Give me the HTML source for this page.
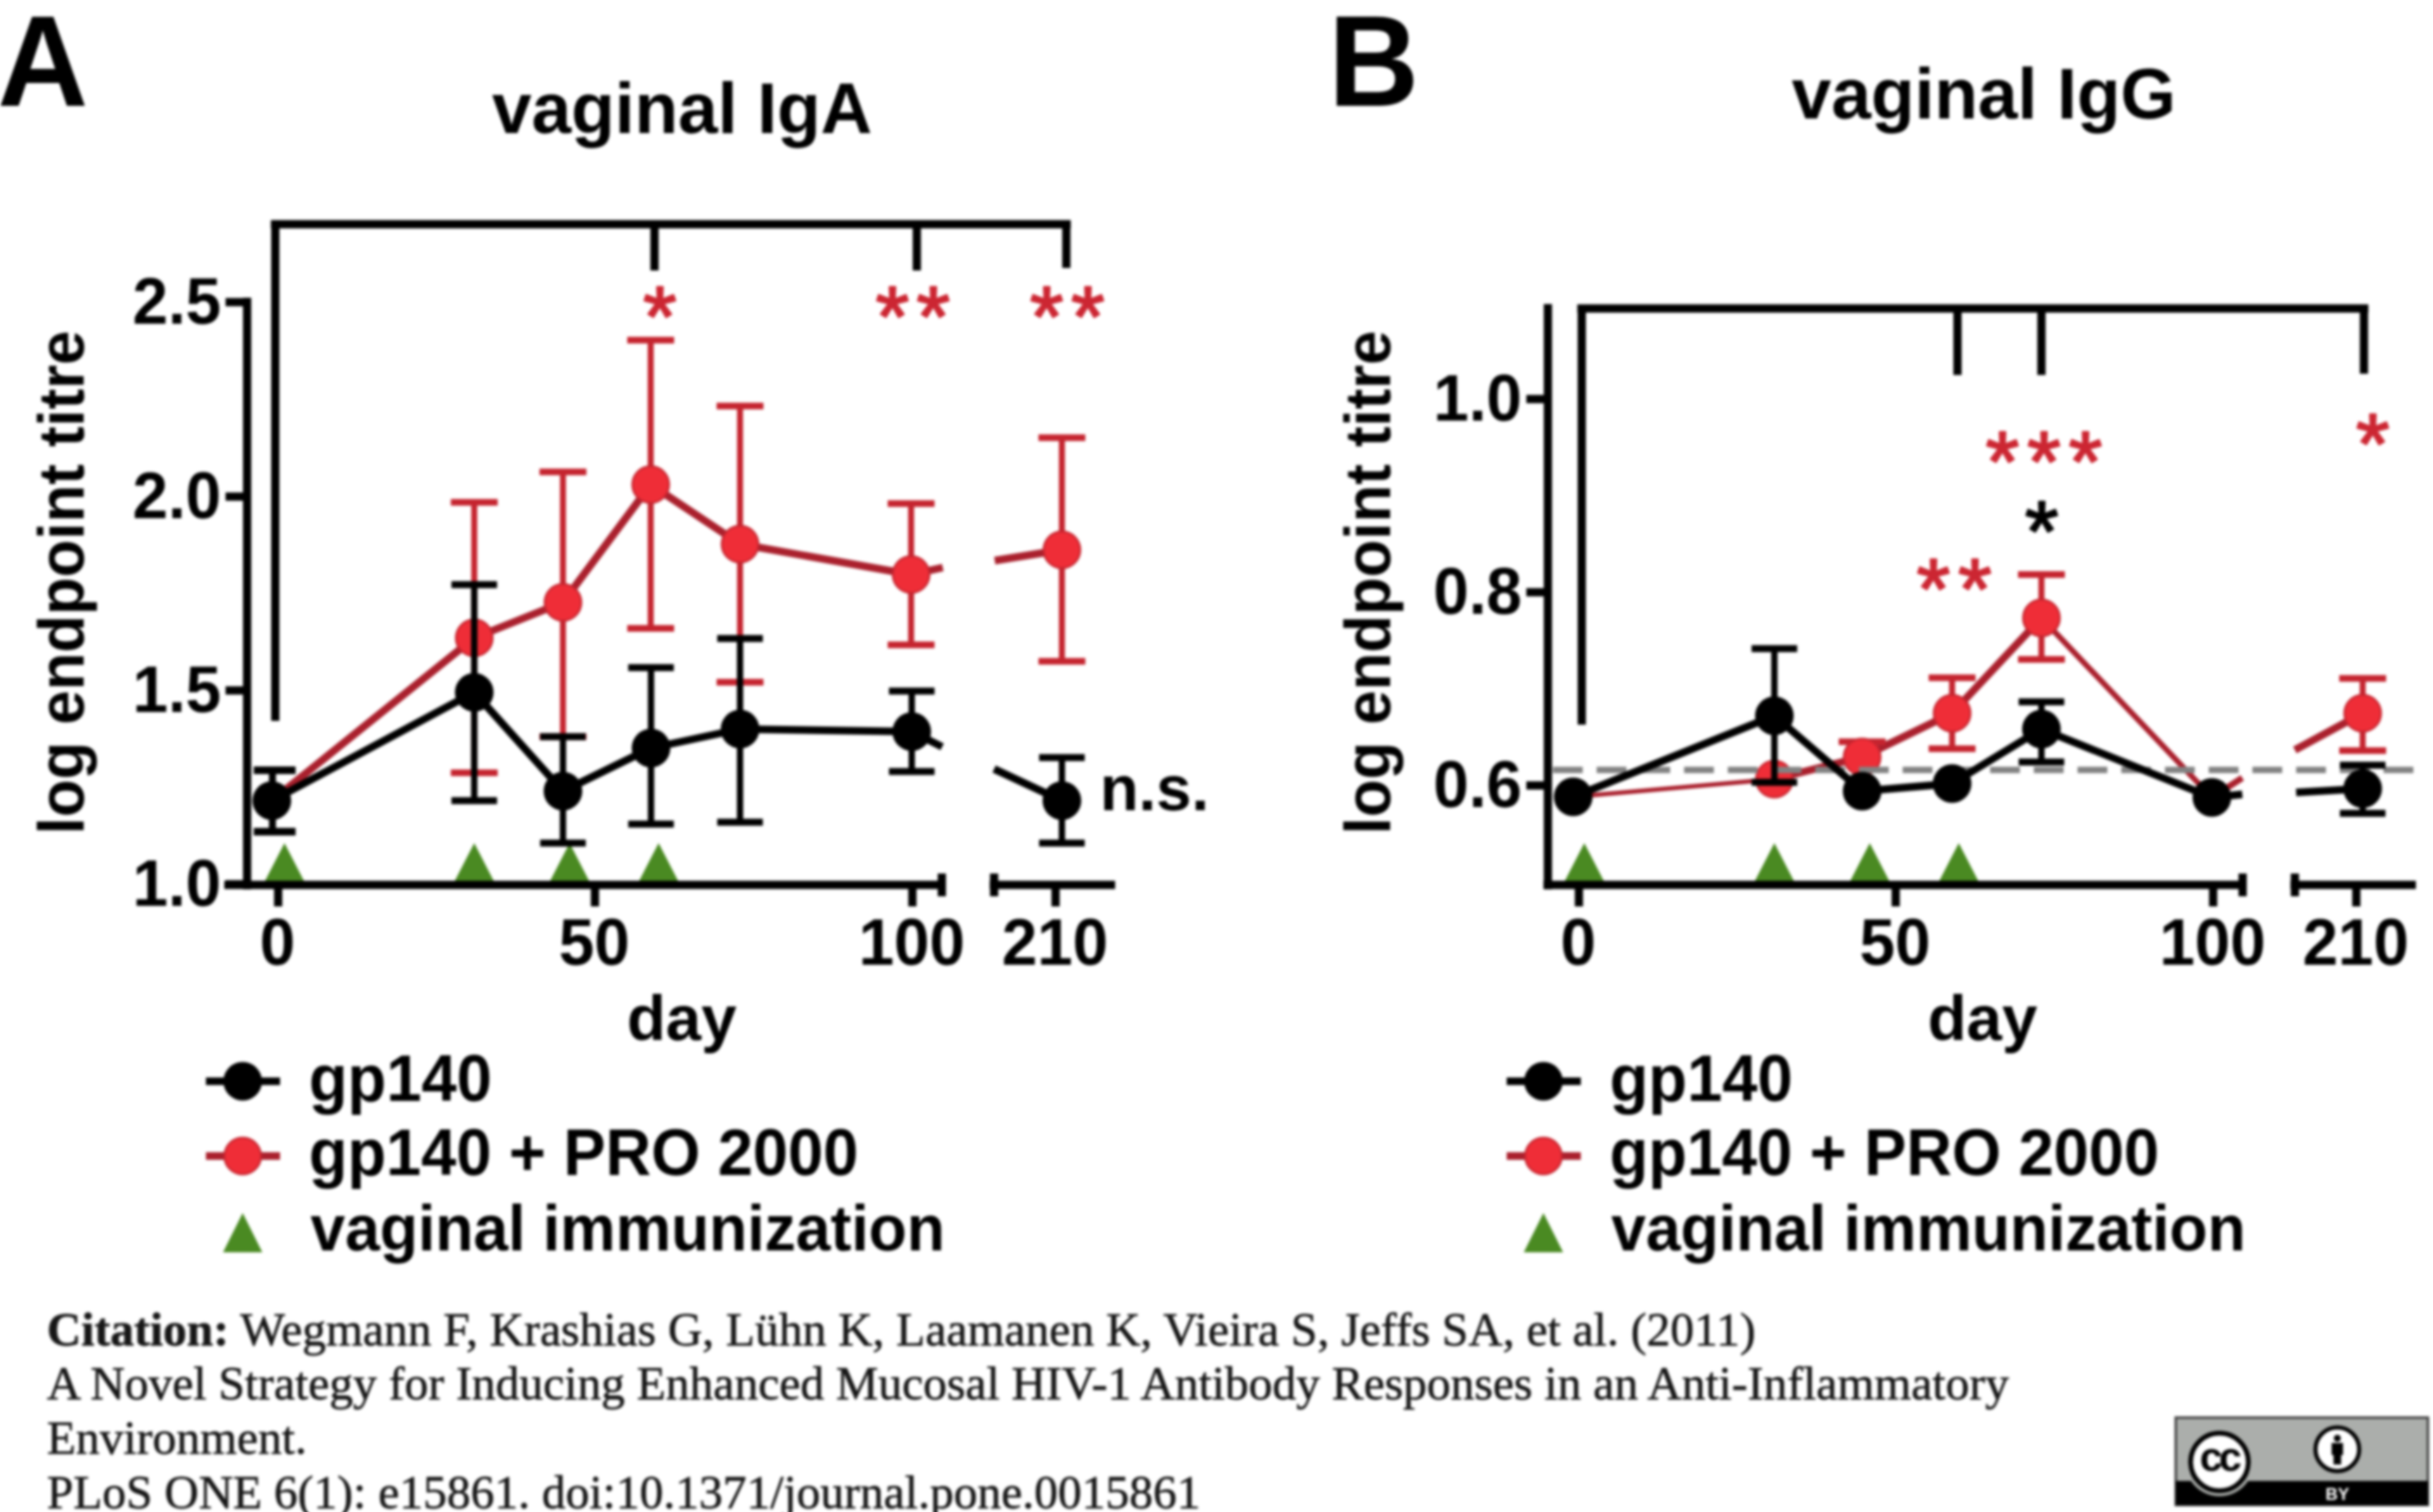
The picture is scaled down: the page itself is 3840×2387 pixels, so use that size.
<!DOCTYPE html>
<html lang="en"><head><meta charset="utf-8"><title>Vaginal IgA and IgG endpoint titres</title>
<style>
html,body{margin:0;padding:0;background:#fff;}
body{width:3840px;height:2387px;overflow:hidden;}
svg{display:block;}
</style></head><body>
<svg width="3840" height="2387" viewBox="0 0 3840 2387">
<rect width="3840" height="2387" fill="#fff"/>
<defs><filter id="soft" filterUnits="userSpaceOnUse" x="0" y="0" width="3840" height="2387" color-interpolation-filters="sRGB"><feGaussianBlur stdDeviation="2.3"/></filter></defs>
<g filter="url(#soft)">
<rect width="3840" height="2387" fill="#fff"/>
<line x1="427.5" y1="354" x2="1690" y2="354" stroke="#000" stroke-width="13" stroke-linecap="butt" />
<line x1="434.5" y1="354" x2="434.5" y2="1138" stroke="#000" stroke-width="13" stroke-linecap="butt" />
<line x1="1033" y1="354" x2="1033" y2="427" stroke="#000" stroke-width="13" stroke-linecap="butt" />
<line x1="1447" y1="354" x2="1447" y2="427" stroke="#000" stroke-width="13" stroke-linecap="butt" />
<line x1="1683" y1="354" x2="1683" y2="423" stroke="#000" stroke-width="13" stroke-linecap="butt" />
<text transform="translate(1041.5,546.38) scale(1,1)" font-size="136" text-anchor="middle" fill="#cc2632" font-weight="normal" font-family='"Liberation Sans", Arial, Helvetica, sans-serif' stroke="#cc2632" stroke-width="3" stroke-linejoin="round">*</text>
<text transform="translate(1408.5,546.38) scale(1,1)" font-size="136" text-anchor="middle" fill="#cc2632" font-weight="normal" font-family='"Liberation Sans", Arial, Helvetica, sans-serif' stroke="#cc2632" stroke-width="3" stroke-linejoin="round">*</text>
<text transform="translate(1473.0,546.38) scale(1,1)" font-size="136" text-anchor="middle" fill="#cc2632" font-weight="normal" font-family='"Liberation Sans", Arial, Helvetica, sans-serif' stroke="#cc2632" stroke-width="3" stroke-linejoin="round">*</text>
<text transform="translate(1652.0,546.38) scale(1,1)" font-size="136" text-anchor="middle" fill="#cc2632" font-weight="normal" font-family='"Liberation Sans", Arial, Helvetica, sans-serif' stroke="#cc2632" stroke-width="3" stroke-linejoin="round">*</text>
<text transform="translate(1717.0,546.38) scale(1,1)" font-size="136" text-anchor="middle" fill="#cc2632" font-weight="normal" font-family='"Liberation Sans", Arial, Helvetica, sans-serif' stroke="#cc2632" stroke-width="3" stroke-linejoin="round">*</text>
<polygon points="449,1331 415,1397 483,1397" fill="#4a8a22"/>
<polygon points="748.5,1331 714.5,1397 782.5,1397" fill="#4a8a22"/>
<polygon points="899,1331 865,1397 933,1397" fill="#4a8a22"/>
<polygon points="1039.5,1331 1005.5,1397 1073.5,1397" fill="#4a8a22"/>
<polyline points="429,1264 748.5,1007 888.5,951 1027,765 1168,859 1438,907 1488,896" fill="none" stroke="#aa202d" stroke-width="12" stroke-linejoin="round"/>
<polyline points="1570,885 1676,868" fill="none" stroke="#aa202d" stroke-width="12" stroke-linejoin="round"/>
<line x1="748.5" y1="793" x2="748.5" y2="1220" stroke="#c5242f" stroke-width="9.5" stroke-linecap="butt" />
<line x1="711.5" y1="793" x2="785.5" y2="793" stroke="#c5242f" stroke-width="10.5" stroke-linecap="butt" />
<line x1="711.5" y1="1220" x2="785.5" y2="1220" stroke="#c5242f" stroke-width="10.5" stroke-linecap="butt" />
<line x1="888.5" y1="745" x2="888.5" y2="1163" stroke="#c5242f" stroke-width="9.5" stroke-linecap="butt" />
<line x1="851.5" y1="745" x2="925.5" y2="745" stroke="#c5242f" stroke-width="10.5" stroke-linecap="butt" />
<line x1="851.5" y1="1163" x2="925.5" y2="1163" stroke="#c5242f" stroke-width="10.5" stroke-linecap="butt" />
<line x1="1027" y1="537" x2="1027" y2="992" stroke="#c5242f" stroke-width="9.5" stroke-linecap="butt" />
<line x1="990.0" y1="537" x2="1064.0" y2="537" stroke="#c5242f" stroke-width="10.5" stroke-linecap="butt" />
<line x1="990.0" y1="992" x2="1064.0" y2="992" stroke="#c5242f" stroke-width="10.5" stroke-linecap="butt" />
<line x1="1168" y1="641" x2="1168" y2="1077" stroke="#c5242f" stroke-width="9.5" stroke-linecap="butt" />
<line x1="1131.0" y1="641" x2="1205.0" y2="641" stroke="#c5242f" stroke-width="10.5" stroke-linecap="butt" />
<line x1="1131.0" y1="1077" x2="1205.0" y2="1077" stroke="#c5242f" stroke-width="10.5" stroke-linecap="butt" />
<line x1="1438" y1="795" x2="1438" y2="1018" stroke="#c5242f" stroke-width="9.5" stroke-linecap="butt" />
<line x1="1401.0" y1="795" x2="1475.0" y2="795" stroke="#c5242f" stroke-width="10.5" stroke-linecap="butt" />
<line x1="1401.0" y1="1018" x2="1475.0" y2="1018" stroke="#c5242f" stroke-width="10.5" stroke-linecap="butt" />
<line x1="1676" y1="691" x2="1676" y2="1044" stroke="#c5242f" stroke-width="9.5" stroke-linecap="butt" />
<line x1="1639.0" y1="691" x2="1713.0" y2="691" stroke="#c5242f" stroke-width="10.5" stroke-linecap="butt" />
<line x1="1639.0" y1="1044" x2="1713.0" y2="1044" stroke="#c5242f" stroke-width="10.5" stroke-linecap="butt" />
<circle cx="748.5" cy="1007" r="29.0" fill="#ef2d37" stroke="#c5242f" stroke-width="3"/>
<circle cx="888.5" cy="951" r="29.0" fill="#ef2d37" stroke="#c5242f" stroke-width="3"/>
<circle cx="1027" cy="765" r="29.0" fill="#ef2d37" stroke="#c5242f" stroke-width="3"/>
<circle cx="1168" cy="859" r="29.0" fill="#ef2d37" stroke="#c5242f" stroke-width="3"/>
<circle cx="1438" cy="907" r="29.0" fill="#ef2d37" stroke="#c5242f" stroke-width="3"/>
<circle cx="1676" cy="868" r="29.0" fill="#ef2d37" stroke="#c5242f" stroke-width="3"/>
<polyline points="429,1264 748.5,1093 888.5,1249 1027.5,1181 1168,1151 1439,1155 1487,1179" fill="none" stroke="#000" stroke-width="12" stroke-linejoin="round"/>
<polyline points="1569,1214 1676,1264" fill="none" stroke="#000" stroke-width="12" stroke-linejoin="round"/>
<line x1="430" y1="1216" x2="430" y2="1313" stroke="#000" stroke-width="11" stroke-linecap="butt" />
<line x1="400.5" y1="1216" x2="466.5" y2="1216" stroke="#000" stroke-width="12" stroke-linecap="butt" />
<line x1="400.5" y1="1313" x2="466.5" y2="1313" stroke="#000" stroke-width="12" stroke-linecap="butt" />
<line x1="748.5" y1="923" x2="748.5" y2="1264" stroke="#000" stroke-width="10" stroke-linecap="butt" />
<line x1="712.5" y1="923" x2="784.5" y2="923" stroke="#000" stroke-width="11" stroke-linecap="butt" />
<line x1="712.5" y1="1264" x2="784.5" y2="1264" stroke="#000" stroke-width="11" stroke-linecap="butt" />
<line x1="888.5" y1="1163" x2="888.5" y2="1331" stroke="#000" stroke-width="10" stroke-linecap="butt" />
<line x1="852.5" y1="1163" x2="924.5" y2="1163" stroke="#000" stroke-width="11" stroke-linecap="butt" />
<line x1="852.5" y1="1331" x2="924.5" y2="1331" stroke="#000" stroke-width="11" stroke-linecap="butt" />
<line x1="1027.5" y1="1054" x2="1027.5" y2="1301" stroke="#000" stroke-width="10" stroke-linecap="butt" />
<line x1="991.5" y1="1054" x2="1063.5" y2="1054" stroke="#000" stroke-width="11" stroke-linecap="butt" />
<line x1="991.5" y1="1301" x2="1063.5" y2="1301" stroke="#000" stroke-width="11" stroke-linecap="butt" />
<line x1="1168" y1="1008" x2="1168" y2="1298" stroke="#000" stroke-width="10" stroke-linecap="butt" />
<line x1="1132.0" y1="1008" x2="1204.0" y2="1008" stroke="#000" stroke-width="11" stroke-linecap="butt" />
<line x1="1132.0" y1="1298" x2="1204.0" y2="1298" stroke="#000" stroke-width="11" stroke-linecap="butt" />
<line x1="1439" y1="1091" x2="1439" y2="1218" stroke="#000" stroke-width="10" stroke-linecap="butt" />
<line x1="1403.0" y1="1091" x2="1475.0" y2="1091" stroke="#000" stroke-width="11" stroke-linecap="butt" />
<line x1="1403.0" y1="1218" x2="1475.0" y2="1218" stroke="#000" stroke-width="11" stroke-linecap="butt" />
<line x1="1676" y1="1196" x2="1676" y2="1331" stroke="#000" stroke-width="10" stroke-linecap="butt" />
<line x1="1640.0" y1="1196" x2="1712.0" y2="1196" stroke="#000" stroke-width="11" stroke-linecap="butt" />
<line x1="1640.0" y1="1331" x2="1712.0" y2="1331" stroke="#000" stroke-width="11" stroke-linecap="butt" />
<circle cx="429" cy="1264" r="30.5" fill="#000"/>
<circle cx="748.5" cy="1093" r="30.5" fill="#000"/>
<circle cx="888.5" cy="1249" r="30.5" fill="#000"/>
<circle cx="1027.5" cy="1181" r="30.5" fill="#000"/>
<circle cx="1168" cy="1151" r="30.5" fill="#000"/>
<circle cx="1439" cy="1155" r="30.5" fill="#000"/>
<circle cx="1676" cy="1264" r="30.5" fill="#000"/>
<text transform="translate(1736,1279) scale(1,1.0)" font-size="100" text-anchor="start" fill="#000" font-weight="bold" font-family='"Liberation Sans", Arial, Helvetica, sans-serif' >n.s.</text>
<line x1="390" y1="470" x2="390" y2="1404" stroke="#000" stroke-width="13" stroke-linecap="butt" />
<line x1="356" y1="477" x2="390" y2="477" stroke="#000" stroke-width="13" stroke-linecap="butt" />
<text transform="translate(349,510.5) scale(1,1.035)" font-size="100.5" text-anchor="end" fill="#000" font-weight="bold" font-family='"Liberation Sans", Arial, Helvetica, sans-serif' >2.5</text>
<line x1="356" y1="784" x2="390" y2="784" stroke="#000" stroke-width="13" stroke-linecap="butt" />
<text transform="translate(349,817.5) scale(1,1.035)" font-size="100.5" text-anchor="end" fill="#000" font-weight="bold" font-family='"Liberation Sans", Arial, Helvetica, sans-serif' >2.0</text>
<line x1="356" y1="1090" x2="390" y2="1090" stroke="#000" stroke-width="13" stroke-linecap="butt" />
<text transform="translate(349,1123.5) scale(1,1.035)" font-size="100.5" text-anchor="end" fill="#000" font-weight="bold" font-family='"Liberation Sans", Arial, Helvetica, sans-serif' >1.5</text>
<line x1="356" y1="1396" x2="390" y2="1396" stroke="#000" stroke-width="13" stroke-linecap="butt" />
<text transform="translate(349,1429.5) scale(1,1.035)" font-size="100.5" text-anchor="end" fill="#000" font-weight="bold" font-family='"Liberation Sans", Arial, Helvetica, sans-serif' >1.0</text>
<line x1="354" y1="1397" x2="1493" y2="1397" stroke="#000" stroke-width="13" stroke-linecap="butt" />
<line x1="1486.5" y1="1379" x2="1486.5" y2="1415" stroke="#000" stroke-width="13" stroke-linecap="butt" />
<line x1="1562" y1="1397" x2="1760" y2="1397" stroke="#000" stroke-width="13" stroke-linecap="butt" />
<line x1="1569" y1="1379" x2="1569" y2="1415" stroke="#000" stroke-width="13" stroke-linecap="butt" />
<line x1="439" y1="1397" x2="439" y2="1431" stroke="#000" stroke-width="13" stroke-linecap="butt" />
<text transform="translate(438,1522.5) scale(1,1.035)" font-size="100.5" text-anchor="middle" fill="#000" font-weight="bold" font-family='"Liberation Sans", Arial, Helvetica, sans-serif' >0</text>
<line x1="939" y1="1397" x2="939" y2="1431" stroke="#000" stroke-width="13" stroke-linecap="butt" />
<text transform="translate(938,1522.5) scale(1,1.035)" font-size="100.5" text-anchor="middle" fill="#000" font-weight="bold" font-family='"Liberation Sans", Arial, Helvetica, sans-serif' >50</text>
<line x1="1440" y1="1397" x2="1440" y2="1431" stroke="#000" stroke-width="13" stroke-linecap="butt" />
<text transform="translate(1439,1522.5) scale(1,1.035)" font-size="100.5" text-anchor="middle" fill="#000" font-weight="bold" font-family='"Liberation Sans", Arial, Helvetica, sans-serif' >100</text>
<line x1="1666" y1="1397" x2="1666" y2="1431" stroke="#000" stroke-width="13" stroke-linecap="butt" />
<text transform="translate(1665,1522.5) scale(1,1.035)" font-size="100.5" text-anchor="middle" fill="#000" font-weight="bold" font-family='"Liberation Sans", Arial, Helvetica, sans-serif' >210</text>
<text transform="translate(1076,1642) scale(1,1.0)" font-size="100.5" text-anchor="middle" fill="#000" font-weight="bold" font-family='"Liberation Sans", Arial, Helvetica, sans-serif' >day</text>
<text transform="translate(1076.5,210) scale(1,1.0)" font-size="112.5" text-anchor="middle" fill="#000" font-weight="bold" font-family='"Liberation Sans", Arial, Helvetica, sans-serif' >vaginal IgA</text>
<text transform="translate(132,919.5) rotate(-90) scale(1,1.045)" font-size="97.4" text-anchor="middle" font-weight="bold" font-family='"Liberation Sans", Arial, Helvetica, sans-serif'>log endpoint titre</text>
<line x1="325" y1="1707" x2="442" y2="1707" stroke="#000" stroke-width="12" stroke-linecap="butt" />
<circle cx="383" cy="1707" r="30.5" fill="#000"/>
<line x1="325" y1="1825" x2="442" y2="1825" stroke="#aa202d" stroke-width="12" stroke-linecap="butt" />
<circle cx="383" cy="1825" r="29.0" fill="#ef2d37" stroke="#c5242f" stroke-width="3"/>
<polygon points="383,1915 352,1977 414,1977" fill="#4a8a22"/>
<text transform="translate(487.5,1738) scale(1,1.035)" font-size="100" text-anchor="start" fill="#000" font-weight="bold" font-family='"Liberation Sans", Arial, Helvetica, sans-serif' >gp140</text>
<text transform="translate(487.5,1855) scale(1,1.035)" font-size="99.7" text-anchor="start" fill="#000" font-weight="bold" font-family='"Liberation Sans", Arial, Helvetica, sans-serif' >gp140 + PRO 2000</text>
<text transform="translate(490,1974) scale(1,1.035)" font-size="98.5" text-anchor="start" fill="#000" font-weight="bold" font-family='"Liberation Sans", Arial, Helvetica, sans-serif' >vaginal immunization</text>
<line x1="2489.5" y1="487" x2="3738" y2="487" stroke="#000" stroke-width="13" stroke-linecap="butt" />
<line x1="2496.5" y1="487" x2="2496.5" y2="1144" stroke="#000" stroke-width="13" stroke-linecap="butt" />
<line x1="3089.5" y1="487" x2="3089.5" y2="592" stroke="#000" stroke-width="13" stroke-linecap="butt" />
<line x1="3222" y1="487" x2="3222" y2="592" stroke="#000" stroke-width="13" stroke-linecap="butt" />
<line x1="3731" y1="487" x2="3731" y2="590" stroke="#000" stroke-width="13" stroke-linecap="butt" />
<text transform="translate(3160.5,774.88) scale(1,1)" font-size="136" text-anchor="middle" fill="#cc2632" font-weight="normal" font-family='"Liberation Sans", Arial, Helvetica, sans-serif' stroke="#cc2632" stroke-width="3" stroke-linejoin="round">*</text>
<text transform="translate(3226.0,774.88) scale(1,1)" font-size="136" text-anchor="middle" fill="#cc2632" font-weight="normal" font-family='"Liberation Sans", Arial, Helvetica, sans-serif' stroke="#cc2632" stroke-width="3" stroke-linejoin="round">*</text>
<text transform="translate(3291.5,774.88) scale(1,1)" font-size="136" text-anchor="middle" fill="#cc2632" font-weight="normal" font-family='"Liberation Sans", Arial, Helvetica, sans-serif' stroke="#cc2632" stroke-width="3" stroke-linejoin="round">*</text>
<text transform="translate(3222.5,885.38) scale(1,1)" font-size="136" text-anchor="middle" fill="#000" font-weight="normal" font-family='"Liberation Sans", Arial, Helvetica, sans-serif' stroke="#000" stroke-width="3" stroke-linejoin="round">*</text>
<text transform="translate(3051.5,976.38) scale(1,1)" font-size="136" text-anchor="middle" fill="#cc2632" font-weight="normal" font-family='"Liberation Sans", Arial, Helvetica, sans-serif' stroke="#cc2632" stroke-width="3" stroke-linejoin="round">*</text>
<text transform="translate(3117.0,976.38) scale(1,1)" font-size="136" text-anchor="middle" fill="#cc2632" font-weight="normal" font-family='"Liberation Sans", Arial, Helvetica, sans-serif' stroke="#cc2632" stroke-width="3" stroke-linejoin="round">*</text>
<text transform="translate(3745.0,747.38) scale(1,1)" font-size="136" text-anchor="middle" fill="#cc2632" font-weight="normal" font-family='"Liberation Sans", Arial, Helvetica, sans-serif' stroke="#cc2632" stroke-width="3" stroke-linejoin="round">*</text>
<polygon points="2500.5,1331 2466.5,1397 2534.5,1397" fill="#4a8a22"/>
<polygon points="2800.5,1331 2766.5,1397 2834.5,1397" fill="#4a8a22"/>
<polygon points="2951,1331 2917,1397 2985,1397" fill="#4a8a22"/>
<polygon points="3091.5,1331 3057.5,1397 3125.5,1397" fill="#4a8a22"/>
<polyline points="2483,1258 2800.5,1230" fill="none" stroke="#aa202d" stroke-width="7" stroke-linejoin="round"/>
<polyline points="2800.5,1230 2939,1195 3081,1126 3222,975.5" fill="none" stroke="#aa202d" stroke-width="12" stroke-linejoin="round"/>
<polyline points="3222,975.5 3491,1259" fill="none" stroke="#aa202d" stroke-width="9" stroke-linejoin="round"/>
<polyline points="3491,1259 3539,1228" fill="none" stroke="#aa202d" stroke-width="10" stroke-linejoin="round"/>
<polyline points="3622,1184 3729,1126" fill="none" stroke="#aa202d" stroke-width="12" stroke-linejoin="round"/>
<line x1="2902.0" y1="1171" x2="2976.0" y2="1171" stroke="#c5242f" stroke-width="10.5" stroke-linecap="butt" />
<line x1="2939" y1="1171" x2="2939" y2="1195" stroke="#c5242f" stroke-width="9.5" stroke-linecap="butt" />
<line x1="3081" y1="1070" x2="3081" y2="1182" stroke="#c5242f" stroke-width="9.5" stroke-linecap="butt" />
<line x1="3044.0" y1="1070" x2="3118.0" y2="1070" stroke="#c5242f" stroke-width="10.5" stroke-linecap="butt" />
<line x1="3044.0" y1="1182" x2="3118.0" y2="1182" stroke="#c5242f" stroke-width="10.5" stroke-linecap="butt" />
<line x1="3222" y1="907" x2="3222" y2="1041" stroke="#c5242f" stroke-width="9.5" stroke-linecap="butt" />
<line x1="3185.0" y1="907" x2="3259.0" y2="907" stroke="#c5242f" stroke-width="10.5" stroke-linecap="butt" />
<line x1="3185.0" y1="1041" x2="3259.0" y2="1041" stroke="#c5242f" stroke-width="10.5" stroke-linecap="butt" />
<line x1="3729" y1="1071" x2="3729" y2="1185" stroke="#c5242f" stroke-width="9.5" stroke-linecap="butt" />
<line x1="3692.0" y1="1071" x2="3766.0" y2="1071" stroke="#c5242f" stroke-width="10.5" stroke-linecap="butt" />
<line x1="3692.0" y1="1185" x2="3766.0" y2="1185" stroke="#c5242f" stroke-width="10.5" stroke-linecap="butt" />
<circle cx="2800.5" cy="1230" r="29.0" fill="#ef2d37" stroke="#c5242f" stroke-width="3"/>
<circle cx="2939" cy="1195" r="29.0" fill="#ef2d37" stroke="#c5242f" stroke-width="3"/>
<circle cx="3081" cy="1126" r="29.0" fill="#ef2d37" stroke="#c5242f" stroke-width="3"/>
<circle cx="3222" cy="975.5" r="29.0" fill="#ef2d37" stroke="#c5242f" stroke-width="3"/>
<circle cx="3729" cy="1126" r="29.0" fill="#ef2d37" stroke="#c5242f" stroke-width="3"/>
<line x1="2451" y1="1215.5" x2="3818" y2="1215.5" stroke="#828282" stroke-width="10" stroke-dasharray="47 22"/>
<polyline points="2483,1258 2800.5,1130 2939,1249 3081,1237 3222,1151 3491,1259 3539,1254" fill="none" stroke="#000" stroke-width="12" stroke-linejoin="round"/>
<polyline points="3624,1251 3729,1245" fill="none" stroke="#000" stroke-width="12" stroke-linejoin="round"/>
<line x1="2800.5" y1="1024" x2="2800.5" y2="1235" stroke="#000" stroke-width="10" stroke-linecap="butt" />
<line x1="2764.5" y1="1024" x2="2836.5" y2="1024" stroke="#000" stroke-width="11" stroke-linecap="butt" />
<line x1="2764.5" y1="1235" x2="2836.5" y2="1235" stroke="#000" stroke-width="11" stroke-linecap="butt" />
<line x1="3222" y1="1108" x2="3222" y2="1203" stroke="#000" stroke-width="10" stroke-linecap="butt" />
<line x1="3186.0" y1="1108" x2="3258.0" y2="1108" stroke="#000" stroke-width="11" stroke-linecap="butt" />
<line x1="3186.0" y1="1203" x2="3258.0" y2="1203" stroke="#000" stroke-width="11" stroke-linecap="butt" />
<line x1="3729" y1="1208" x2="3729" y2="1284" stroke="#000" stroke-width="10" stroke-linecap="butt" />
<line x1="3693.0" y1="1208" x2="3765.0" y2="1208" stroke="#000" stroke-width="11" stroke-linecap="butt" />
<line x1="3693.0" y1="1284" x2="3765.0" y2="1284" stroke="#000" stroke-width="11" stroke-linecap="butt" />
<circle cx="2483" cy="1258" r="30.5" fill="#000"/>
<circle cx="2800.5" cy="1130" r="30.5" fill="#000"/>
<circle cx="2939" cy="1249" r="30.5" fill="#000"/>
<circle cx="3081" cy="1237" r="30.5" fill="#000"/>
<circle cx="3222" cy="1151" r="30.5" fill="#000"/>
<circle cx="3491" cy="1259" r="30.5" fill="#000"/>
<circle cx="3729" cy="1245" r="30.5" fill="#000"/>
<line x1="2443" y1="480" x2="2443" y2="1404" stroke="#000" stroke-width="13" stroke-linecap="butt" />
<line x1="2409" y1="630" x2="2443" y2="630" stroke="#000" stroke-width="13" stroke-linecap="butt" />
<text transform="translate(2402,663.5) scale(1,1.035)" font-size="100.5" text-anchor="end" fill="#000" font-weight="bold" font-family='"Liberation Sans", Arial, Helvetica, sans-serif' >1.0</text>
<line x1="2409" y1="935" x2="2443" y2="935" stroke="#000" stroke-width="13" stroke-linecap="butt" />
<text transform="translate(2402,968.5) scale(1,1.035)" font-size="100.5" text-anchor="end" fill="#000" font-weight="bold" font-family='"Liberation Sans", Arial, Helvetica, sans-serif' >0.8</text>
<line x1="2409" y1="1240" x2="2443" y2="1240" stroke="#000" stroke-width="13" stroke-linecap="butt" />
<text transform="translate(2402,1273.5) scale(1,1.035)" font-size="100.5" text-anchor="end" fill="#000" font-weight="bold" font-family='"Liberation Sans", Arial, Helvetica, sans-serif' >0.6</text>
<line x1="2436" y1="1397" x2="3546" y2="1397" stroke="#000" stroke-width="13" stroke-linecap="butt" />
<line x1="3539.5" y1="1379" x2="3539.5" y2="1415" stroke="#000" stroke-width="13" stroke-linecap="butt" />
<line x1="3615" y1="1397" x2="3813" y2="1397" stroke="#000" stroke-width="13" stroke-linecap="butt" />
<line x1="3622" y1="1379" x2="3622" y2="1415" stroke="#000" stroke-width="13" stroke-linecap="butt" />
<line x1="2492" y1="1397" x2="2492" y2="1431" stroke="#000" stroke-width="13" stroke-linecap="butt" />
<text transform="translate(2491,1522.5) scale(1,1.035)" font-size="100.5" text-anchor="middle" fill="#000" font-weight="bold" font-family='"Liberation Sans", Arial, Helvetica, sans-serif' >0</text>
<line x1="2992" y1="1397" x2="2992" y2="1431" stroke="#000" stroke-width="13" stroke-linecap="butt" />
<text transform="translate(2991,1522.5) scale(1,1.035)" font-size="100.5" text-anchor="middle" fill="#000" font-weight="bold" font-family='"Liberation Sans", Arial, Helvetica, sans-serif' >50</text>
<line x1="3493" y1="1397" x2="3493" y2="1431" stroke="#000" stroke-width="13" stroke-linecap="butt" />
<text transform="translate(3492,1522.5) scale(1,1.035)" font-size="100.5" text-anchor="middle" fill="#000" font-weight="bold" font-family='"Liberation Sans", Arial, Helvetica, sans-serif' >100</text>
<line x1="3719" y1="1397" x2="3719" y2="1431" stroke="#000" stroke-width="13" stroke-linecap="butt" />
<text transform="translate(3718,1522.5) scale(1,1.035)" font-size="100.5" text-anchor="middle" fill="#000" font-weight="bold" font-family='"Liberation Sans", Arial, Helvetica, sans-serif' >210</text>
<text transform="translate(3129,1642) scale(1,1.0)" font-size="100.5" text-anchor="middle" fill="#000" font-weight="bold" font-family='"Liberation Sans", Arial, Helvetica, sans-serif' >day</text>
<text transform="translate(3131,187) scale(1,1.0)" font-size="112.5" text-anchor="middle" fill="#000" font-weight="bold" font-family='"Liberation Sans", Arial, Helvetica, sans-serif' >vaginal IgG</text>
<text transform="translate(2194,919.5) rotate(-90) scale(1,1.045)" font-size="97.4" text-anchor="middle" font-weight="bold" font-family='"Liberation Sans", Arial, Helvetica, sans-serif'>log endpoint titre</text>
<line x1="2378" y1="1707" x2="2495" y2="1707" stroke="#000" stroke-width="12" stroke-linecap="butt" />
<circle cx="2436" cy="1707" r="30.5" fill="#000"/>
<line x1="2378" y1="1825" x2="2495" y2="1825" stroke="#aa202d" stroke-width="12" stroke-linecap="butt" />
<circle cx="2436" cy="1825" r="29.0" fill="#ef2d37" stroke="#c5242f" stroke-width="3"/>
<polygon points="2436,1915 2405,1977 2467,1977" fill="#4a8a22"/>
<text transform="translate(2540.5,1738) scale(1,1.035)" font-size="100" text-anchor="start" fill="#000" font-weight="bold" font-family='"Liberation Sans", Arial, Helvetica, sans-serif' >gp140</text>
<text transform="translate(2540.5,1855) scale(1,1.035)" font-size="99.7" text-anchor="start" fill="#000" font-weight="bold" font-family='"Liberation Sans", Arial, Helvetica, sans-serif' >gp140 + PRO 2000</text>
<text transform="translate(2543,1974) scale(1,1.035)" font-size="98.5" text-anchor="start" fill="#000" font-weight="bold" font-family='"Liberation Sans", Arial, Helvetica, sans-serif' >vaginal immunization</text>
<text transform="translate(-4,167) scale(1,1.03)" font-size="198" text-anchor="start" fill="#000" font-weight="bold" font-family='"Liberation Sans", Arial, Helvetica, sans-serif' >A</text>
<text transform="translate(2096.5,167) scale(1,1.03)" font-size="198" text-anchor="start" fill="#000" font-weight="bold" font-family='"Liberation Sans", Arial, Helvetica, sans-serif' >B</text>
<text x="74" y="2124" font-size="75.0" fill="#161616" stroke="#161616" stroke-width="0.8" font-family='"Liberation Serif", "Times New Roman", serif'><tspan font-weight="bold">Citation:</tspan> Wegmann F, Krashias G, Lühn K, Laamanen K, Vieira S, Jeffs SA, et al. (2011)</text>
<text x="74" y="2209" font-size="75.0" fill="#161616" stroke="#161616" stroke-width="0.8" font-family='"Liberation Serif", "Times New Roman", serif'>A Novel Strategy for Inducing Enhanced Mucosal HIV-1 Antibody Responses in an Anti-Inflammatory</text>
<text x="74" y="2295" font-size="75.0" fill="#161616" stroke="#161616" stroke-width="0.8" font-family='"Liberation Serif", "Times New Roman", serif'>Environment.</text>
<text x="74" y="2381" font-size="75.0" fill="#161616" stroke="#161616" stroke-width="0.8" font-family='"Liberation Serif", "Times New Roman", serif'>PLoS ONE 6(1): e15861. doi:10.1371/journal.pone.0015861</text>
<g>
<rect x="3434" y="2238" width="398" height="138" fill="#abaeab" stroke="#444" stroke-width="4"/>
<rect x="3434" y="2338" width="398" height="38" fill="#000"/>
<circle cx="3503" cy="2308" r="54" fill="#abaeab"/>
<circle cx="3503" cy="2308" r="45.5" fill="#fff" stroke="#000" stroke-width="7.5"/>
<text x="3502" y="2322" font-size="65" text-anchor="middle" font-weight="bold" letter-spacing="-6" font-family='"Liberation Sans", Arial, Helvetica, sans-serif'>cc</text>
<circle cx="3689" cy="2288" r="34.5" fill="#fff" stroke="#000" stroke-width="6.5"/>
<circle cx="3689" cy="2270.5" r="5.5" fill="#000"/>
<path d="M3680 2278 h18 v19 h-3 v15 h-12 v-15 h-3 z" fill="#000"/>
<text x="3689" y="2368" font-size="27" text-anchor="middle" font-weight="bold" fill="#fff" font-family='"Liberation Sans", Arial, Helvetica, sans-serif'>BY</text>
</g>
</g>
</svg>
</body></html>
